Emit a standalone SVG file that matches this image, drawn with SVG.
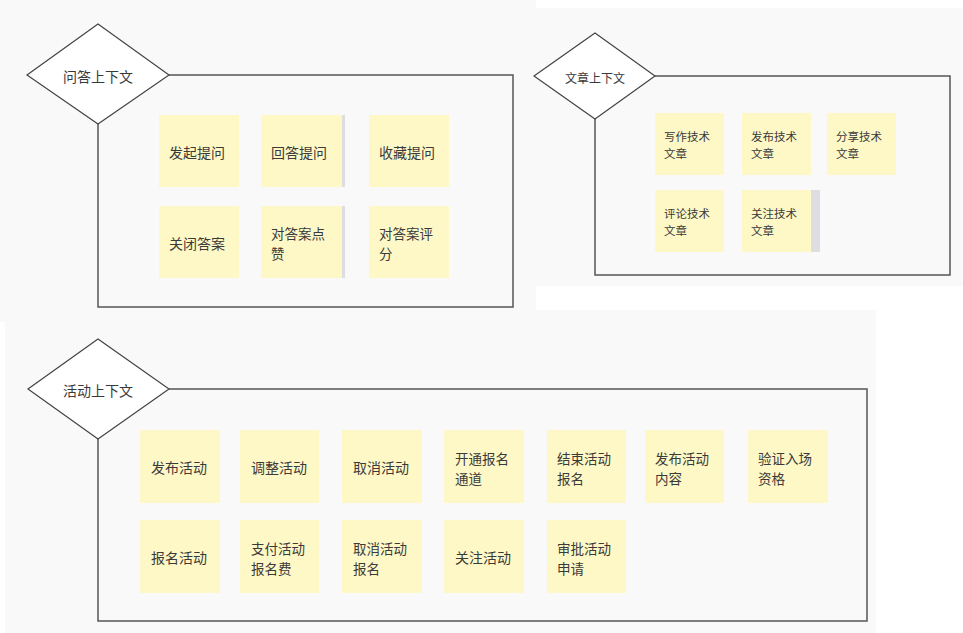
<svg xmlns="http://www.w3.org/2000/svg" width="963" height="633" viewBox="0 0 963 633">
<style>
.bg{fill:#f9f9fa}
.frame{fill:none;stroke:#555;stroke-width:1.5}
.dia{fill:#fff;stroke:#444;stroke-width:1.2}
.note{fill:#fef8c6}
.shadow{fill:#dedee2}
text{font-family:"Noto Sans CJK SC","Noto Sans",sans-serif;fill:#3a3a3a;dominant-baseline:central}
.t14{font-size:14px}
.t13{font-size:13.5px}
.t12{font-size:12px}
.t11{font-size:11.5px}
.lbl{text-anchor:middle}
</style>
<rect width="963" height="633" fill="#fff"/>
<rect class="bg" x="0" y="0" width="536" height="322"/>
<rect class="bg" x="536" y="8" width="427" height="278"/>
<rect class="bg" x="5" y="310" width="871" height="323"/>

<g id="connectors">
<path class="frame" d="M169,75 H513 V307 H98 V124"/>
<path class="frame" d="M655,76 H950 V275 H595 V119"/>
<path class="frame" d="M169,389 H867 V621 H98 V439"/>
</g>

<g id="ctx-qa">
<polygon class="dia" points="27,75 98,24 169,75 98,124"/>
<text class="t14 lbl" x="98" y="76">问答上下文</text>
</g>
<g id="ctx-article">
<polygon class="dia" points="534,76 595,33 655,76 595,119"/>
<text class="t12 lbl" x="595" y="77">文章上下文</text>
</g>
<g id="ctx-activity">
<polygon class="dia" points="28,389 98,339 169,389 98,439"/>
<text class="t14 lbl" x="98" y="390">活动上下文</text>
</g>

<g id="qa-1"><rect class="note" x="159" y="115" width="80" height="72"/><text class="t14" x="169" y="152">发起提问</text></g>
<g id="qa-2"><rect class="shadow" x="262" y="115" width="83" height="72"/><rect class="note" x="261" y="115" width="81" height="72"/><text class="t14" x="271" y="152">回答提问</text></g>
<g id="qa-3"><rect class="note" x="369" y="115" width="80" height="72"/><text class="t14" x="379" y="152">收藏提问</text></g>
<g id="qa-4"><rect class="note" x="159" y="206" width="80" height="72"/><text class="t14" x="169" y="243">关闭答案</text></g>
<g id="qa-5"><rect class="shadow" x="262" y="206" width="83" height="72"/><rect class="note" x="261" y="206" width="81" height="72"/><text class="t13" x="271" y="232.5">对答案点<tspan x="271" dy="20">赞</tspan></text></g>
<g id="qa-6"><rect class="note" x="369" y="206" width="80" height="72"/><text class="t13" x="379" y="232.5">对答案评<tspan x="379" dy="20">分</tspan></text></g>

<g id="ar-1"><rect class="note" x="655" y="113" width="69" height="62"/><text class="t11" x="664" y="136">写作技术<tspan x="664" dy="17">文章</tspan></text></g>
<g id="ar-2"><rect class="note" x="742" y="113" width="69" height="62"/><text class="t11" x="751" y="136">发布技术<tspan x="751" dy="17">文章</tspan></text></g>
<g id="ar-3"><rect class="note" x="827" y="113" width="69" height="62"/><text class="t11" x="836" y="136">分享技术<tspan x="836" dy="17">文章</tspan></text></g>
<g id="ar-4"><rect class="note" x="655" y="190" width="69" height="62"/><text class="t11" x="664" y="213">评论技术<tspan x="664" dy="17">文章</tspan></text></g>
<g id="ar-5"><rect class="shadow" x="811" y="190" width="9" height="62"/><rect class="note" x="742" y="190" width="69" height="62"/><text class="t11" x="751" y="213">关注技术<tspan x="751" dy="17">文章</tspan></text></g>

<g id="ac-1"><rect class="note" x="140" y="430" width="80" height="73"/><text class="t14" x="151" y="467">发布活动</text></g>
<g id="ac-2"><rect class="note" x="240" y="430" width="79" height="73"/><text class="t14" x="251" y="467">调整活动</text></g>
<g id="ac-3"><rect class="note" x="342" y="430" width="80" height="73"/><text class="t14" x="353" y="467">取消活动</text></g>
<g id="ac-4"><rect class="note" x="444" y="430" width="80" height="73"/><text class="t13" x="455" y="457.5">开通报名<tspan x="455" dy="20">通道</tspan></text></g>
<g id="ac-5"><rect class="note" x="547" y="430" width="79" height="73"/><text class="t13" x="557" y="457.5">结束活动<tspan x="557" dy="20">报名</tspan></text></g>
<g id="ac-6"><rect class="note" x="645" y="430" width="79" height="73"/><text class="t13" x="655" y="457.5">发布活动<tspan x="655" dy="20">内容</tspan></text></g>
<g id="ac-7"><rect class="note" x="748" y="430" width="80" height="73"/><text class="t13" x="758" y="457.5">验证入场<tspan x="758" dy="20">资格</tspan></text></g>
<g id="ac-8"><rect class="note" x="140" y="520" width="80" height="73"/><text class="t14" x="151" y="557">报名活动</text></g>
<g id="ac-9"><rect class="note" x="240" y="520" width="79" height="73"/><text class="t13" x="251" y="547.5">支付活动<tspan x="251" dy="20">报名费</tspan></text></g>
<g id="ac-10"><rect class="note" x="342" y="520" width="80" height="73"/><text class="t13" x="353" y="547.5">取消活动<tspan x="353" dy="20">报名</tspan></text></g>
<g id="ac-11"><rect class="note" x="444" y="520" width="80" height="73"/><text class="t14" x="455" y="557">关注活动</text></g>
<g id="ac-12"><rect class="note" x="547" y="520" width="79" height="73"/><text class="t13" x="557" y="547.5">审批活动<tspan x="557" dy="20">申请</tspan></text></g>
</svg>
